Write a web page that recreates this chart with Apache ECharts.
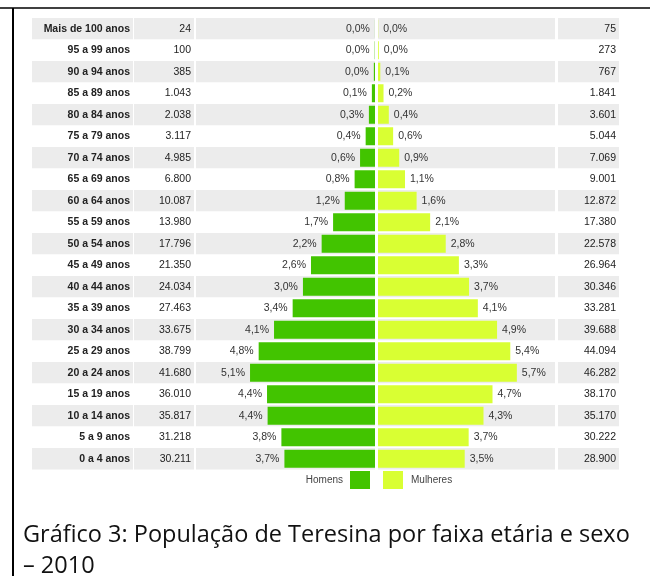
<!DOCTYPE html>
<html>
<head>
<meta charset="utf-8">
<script src="https://cdn.jsdelivr.net/npm/echarts@6/dist/echarts.min.js"></script>
<style>
  html, body { margin: 0; padding: 0; background: #fff; }
  #chart { width: 650px; height: 576px; }
</style>
</head>
<body>
<div id="chart"></div>
<script>
// faixas etárias (de cima para baixo)
var idades = ['Mais de 100 anos', '95 a 99 anos', '90 a 94 anos', '85 a 89 anos', '80 a 84 anos',
  '75 a 79 anos', '70 a 74 anos', '65 a 69 anos', '60 a 64 anos', '55 a 59 anos', '50 a 54 anos',
  '45 a 49 anos', '40 a 44 anos', '35 a 39 anos', '30 a 34 anos', '25 a 29 anos', '20 a 24 anos',
  '15 a 19 anos', '10 a 14 anos', '5 a 9 anos', '0 a 4 anos'];
var homens = [24, 100, 385, 1043, 2038, 3117, 4985, 6800, 10087, 13980, 17796,
  21350, 24034, 27463, 33675, 38799, 41680, 36010, 35817, 31218, 30211];
var mulheres = [75, 273, 767, 1841, 3601, 5044, 7069, 9001, 12872, 17380, 22578,
  26964, 30346, 33281, 39688, 44094, 46282, 38170, 35170, 30222, 28900];

var total = 0;
homens.forEach(function (v) { total += v; });
mulheres.forEach(function (v) { total += v; });

function fmtNum(n) {
  return String(n).replace(/\B(?=(\d{3})+(?!\d))/g, '.');
}
function fmtPct(v) {
  return (v / total * 100).toFixed(1).replace('.', ',') + '%';
}

var font = '"Liberation Sans", Arial, sans-serif';
var gridTop = 18, gridH = 451.5;
var bands = ['#ececec', '#ffffff'];

// colunas: rótulos, homens, barras H, barras M, mulheres
var grids = [
  { left: 32, top: gridTop, width: 101, height: gridH },
  { left: 134, top: gridTop, width: 60, height: gridH },
  { left: 196, top: gridTop, width: 179, height: gridH },
  { left: 378, top: gridTop, width: 177, height: gridH },
  { left: 558, top: gridTop, width: 61, height: gridH }
];

function catAxis(i, labelFn, bold) {
  return {
    type: 'category',
    gridIndex: i,
    data: idades,
    inverse: true,
    position: 'right',
    axisLine: { show: false },
    axisTick: { show: false },
    splitLine: { show: false },
    splitArea: { show: true, areaStyle: { color: bands } },
    axisLabel: {
      show: !!labelFn,
      inside: true,
      margin: 3,
      fontFamily: font,
      fontSize: 10.5,
      fontWeight: bold ? 'bold' : 'normal',
      color: '#222',
      formatter: labelFn || null
    }
  };
}

function valAxis(i, max, inverse) {
  return {
    type: 'value',
    gridIndex: i,
    min: 0,
    max: max,
    inverse: !!inverse,
    show: false
  };
}

var myChart = echarts.init(document.getElementById('chart'));

var option = {
  animation: false,
  backgroundColor: '#fff',
  title: {
    text: 'Gráfico 3: População de Teresina por faixa etária e sexo\n– 2010',
    left: 23,
    top: 520,
    padding: 0,
    textStyle: {
      fontFamily: '"Open Sans", "Noto Sans", sans-serif',
      fontSize: 23.5,
      fontWeight: 'normal',
      color: '#111',
      lineHeight: 31
    }
  },
  legend: [
    {
      data: ['Homens'],
      right: 280,
      top: 471,
      padding: 0,
      align: 'right',
      itemWidth: 20,
      itemHeight: 18,
      icon: 'rect',
      textStyle: { fontFamily: font, fontSize: 10, color: '#444', padding: [0, 2, 0, 0] }
    },
    {
      data: ['Mulheres'],
      left: 383,
      top: 471,
      padding: 0,
      align: 'left',
      itemWidth: 20,
      itemHeight: 18,
      icon: 'rect',
      textStyle: { fontFamily: font, fontSize: 10, color: '#444', padding: [0, 0, 0, 3] }
    }
  ],
  grid: grids,
  xAxis: [
    valAxis(0, 1),
    valAxis(1, 1),
    valAxis(2, 59700, true),
    valAxis(3, 59000),
    valAxis(4, 1)
  ],
  yAxis: [
    catAxis(0, function (v) { return v; }, true),
    catAxis(1, function (v, i) { return fmtNum(homens[i]); }),
    catAxis(2),
    catAxis(3),
    catAxis(4, function (v, i) { return fmtNum(mulheres[i]); })
  ],
  series: [
    {
      name: 'Homens',
      type: 'bar',
      xAxisIndex: 2,
      yAxisIndex: 2,
      data: homens,
      barWidth: 18,
      itemStyle: { color: '#42c400' },
      label: {
        show: true,
        position: 'left',
        distance: 5,
        fontFamily: font,
        fontSize: 10.5,
        color: '#333',
        formatter: function (p) { return fmtPct(p.value); }
      }
    },
    {
      name: 'Mulheres',
      type: 'bar',
      xAxisIndex: 3,
      yAxisIndex: 3,
      data: mulheres,
      barWidth: 18,
      itemStyle: { color: '#d9ff33' },
      label: {
        show: true,
        position: 'right',
        distance: 5,
        fontFamily: font,
        fontSize: 10.5,
        color: '#333',
        formatter: function (p) { return fmtPct(p.value); }
      }
    }
  ],
  graphic: [
    { type: 'line', shape: { x1: 0, y1: 8, x2: 650, y2: 8 }, style: { stroke: '#000', lineWidth: 1.5 } },
    { type: 'line', shape: { x1: 13, y1: 8, x2: 13, y2: 576 }, style: { stroke: '#000', lineWidth: 2 } }
  ]
};

myChart.setOption(option, true);
</script>
</body>
</html>
